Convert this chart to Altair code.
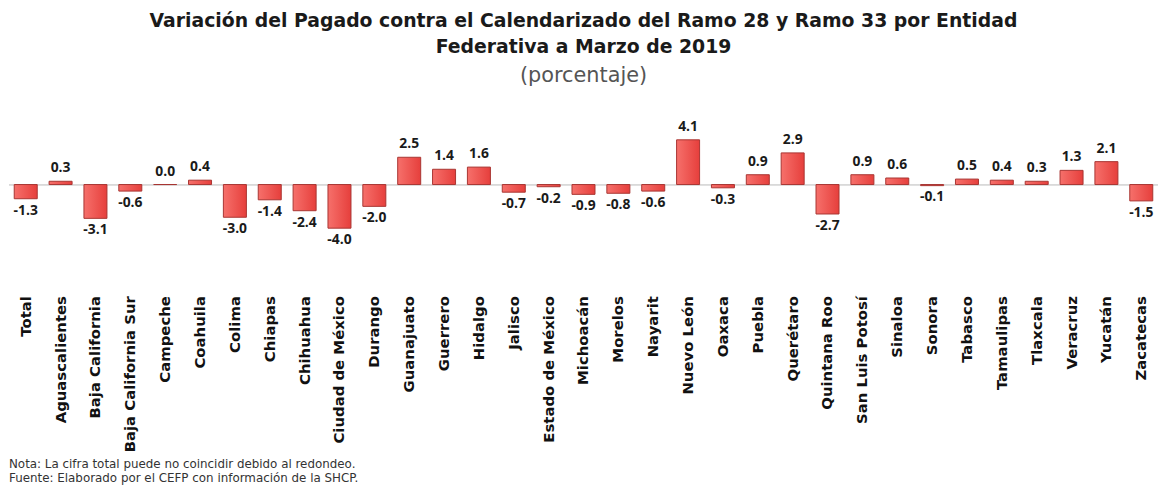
import altair as alt
import pandas as pd

entidades = ["Total", "Aguascalientes", "Baja California", "Baja California Sur", "Campeche",
             "Coahuila", "Colima", "Chiapas", "Chihuahua", "Ciudad de México", "Durango",
             "Guanajuato", "Guerrero", "Hidalgo", "Jalisco", "Estado de México", "Michoacán",
             "Morelos", "Nayarit", "Nuevo León", "Oaxaca", "Puebla", "Querétaro",
             "Quintana Roo", "San Luis Potosí", "Sinaloa", "Sonora", "Tabasco", "Tamaulipas",
             "Tlaxcala", "Veracruz", "Yucatán", "Zacatecas"]
valores = [-1.3, 0.3, -3.1, -0.6, 0.0, 0.4, -3.0, -1.4, -2.4, -4.0, -2.0,
           2.5, 1.4, 1.6, -0.7, -0.2, -0.9, -0.8, -0.6, 4.1, -0.3, 0.9, 2.9,
           -2.7, 0.9, 0.6, -0.1, 0.5, 0.4, 0.3, 1.3, 2.1, -1.5]

titulo = ["Variación del Pagado contra el Calendarizado del Ramo 28 y Ramo 33 por Entidad",
          "Federativa a Marzo de 2019"]
subtitulo = "(porcentaje)"
notas = ["Nota: La cifra total puede no coincidir debido al redondeo.",
         "Fuente: Elaborado por el CEFP con información de la SHCP."]

df = pd.DataFrame({"entidad": entidades, "valor": valores})
df["etiqueta"] = [f"{v:.1f}" for v in valores]
df["cero"] = 0.0

W, H = 1159, 180
FONT = "DejaVu Sans"
VFONT = "Open Sans"
YDOM = [-9.545, 6.818]

x = alt.X("entidad:N", sort=entidades,
          scale=alt.Scale(paddingInner=0.34, paddingOuter=0.15),
          axis=alt.Axis(title=None, labelAngle=-90, labelFontWeight="bold", labelFontSize=15,
                        labelFont=FONT, labelColor="#111111", domain=False, ticks=False,
                        labelPadding=7, labelLimit=300))
y = alt.Y("valor:Q", scale=alt.Scale(domain=YDOM, nice=False, zero=True), axis=None)

base = alt.Chart(df)

zero = base.mark_rule(color="#d9d9d9", strokeWidth=1).encode(
    y=alt.Y("cero:Q", scale=alt.Scale(domain=YDOM, nice=False), axis=None))

bars = base.mark_bar(
    color=alt.Gradient(gradient="linear", x1=0, x2=1, y1=0, y2=0,
                       stops=[alt.GradientStop(color="#f6706b", offset=0),
                              alt.GradientStop(color="#e63f3c", offset=1)]),
    stroke="#a83532", strokeWidth=1).encode(x=x, y=y)

pos = base.transform_filter("datum.valor >= 0").mark_text(
    baseline="bottom", dy=-6, fontSize=14, fontWeight="bold", font=VFONT, color="#1a1a1a"
).encode(x=x, y=y, text="etiqueta:N")

neg = base.transform_filter("datum.valor < 0").mark_text(
    baseline="top", dy=5, fontSize=14, fontWeight="bold", font=VFONT, color="#1a1a1a"
).encode(x=x, y=y, text="etiqueta:N")

nota_df = pd.DataFrame({"t": notas, "i": [0, 1]})
nota = alt.Chart(nota_df).mark_text(align="left", baseline="middle", fontSize=12,
                                   font=FONT, color="#333333").encode(
    x=alt.value(0),
    y=alt.Y("i:Q", scale=alt.Scale(domain=[0, 1], range=[H + 177, H + 191]), axis=None),
    text="t:N")

chart = alt.layer(zero, bars, pos, neg, nota).resolve_scale(y="independent").properties(
    width=W, height=H,
    padding={"left": 0, "right": 0, "top": 2, "bottom": 0},
    title=alt.TitleParams(text=titulo, subtitle=subtitulo, anchor="middle", font=FONT,
                          fontSize=19, fontWeight="bold", lineHeight=26, color="#1a1a1a",
                          subtitleFont=FONT, subtitleFontSize=21, subtitleColor="#555555",
                          subtitlePadding=9, offset=24)
).configure(background="white", view=alt.ViewConfig(stroke=None))

chart.save("out.html", embed_options={"renderer": "svg", "actions": False})
